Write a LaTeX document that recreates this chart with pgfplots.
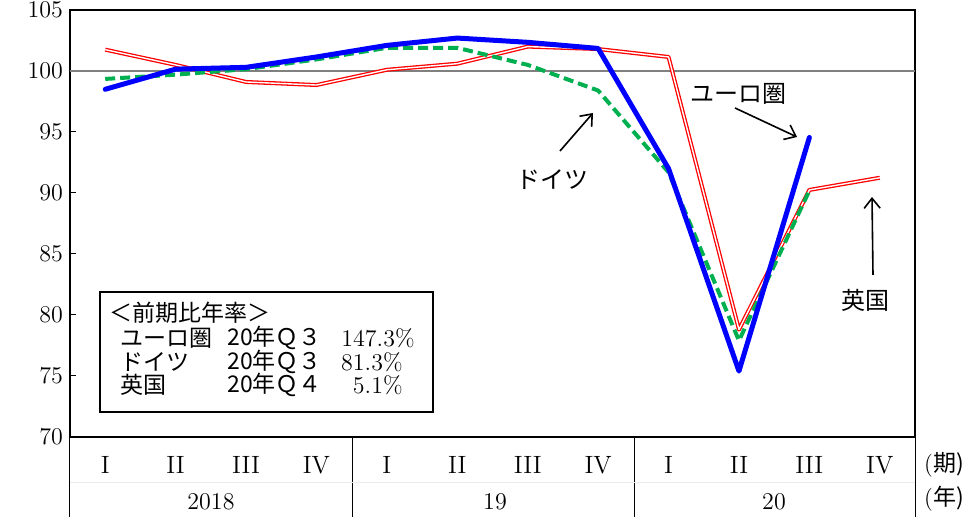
\documentclass[border=0pt]{standalone}
\usepackage{fontspec}
\usepackage{pgfplots}
\pgfplotsset{compat=1.18}
\usepackage{pgfplotstable}
\usetikzlibrary{arrows.meta}
\newfontfamily\cjk{Noto Sans CJK JP}
\definecolor{deGreen}{RGB}{0,176,80}

% quarterly level, 2018Q1 .. 2020Q4
\pgfplotstableread{
q  euro   de     uk
1  98.5   99.35  101.75
2  100.15 99.7   100.5
3  100.3  100.15 99.1
4  101.15 100.95 98.85
5  102.1  101.9  100.1
6  102.7  101.9  100.6
7  102.35 100.5  102.0
8  101.85 98.4   101.8
9  92.0   91.7   101.15
10 75.4   77.9   78.8
11 94.55  90.2   90.25
12 nan    nan    91.25
}\gdpdata

\begin{document}
\begin{tikzpicture}[px/.style={x=0.5pt,y=-0.5pt,shift={(-70,-435)}},
  jp/.style={font=\fontsize{11.5}{13}\selectfont\cjk, inner sep=0pt}]

\begin{axis}[
    at={(0,0)}, anchor=south west,
    scale only axis,
    width=422.5pt, height=213.5pt,
    xmin=0.5, xmax=12.5,
    ymin=70, ymax=105,
    ytick={70,75,...,105},
    xtick={1,...,12},
    xticklabels={I,II,III,IV,I,II,III,IV,I,II,III,IV},
    x tick style={draw=none},
    y tick style={black, line width=0.5pt},
    tick pos=left,
    tick align=inside,
    major tick length=3pt,
    axis line style={line width=1pt},
    tick label style={font=\fontsize{12}{14}\selectfont},
    xticklabel style={yshift=-6pt, font=\fontsize{12.5}{14}\selectfont},
]
\addplot[gray, line width=0.7pt, forget plot] coordinates {(0.5,100) (12.5,100)};
\addplot[red, line width=2pt, line join=round] table[x=q, y=uk] {\gdpdata};
\addplot[white, line width=0.7pt, line join=round] table[x=q, y=uk] {\gdpdata};
\addplot[deGreen, line width=2pt, dash pattern=on 5pt off 2.5pt, line join=round] table[x=q, y=de] {\gdpdata};
\addplot[blue, line width=2.5pt, line join=round, line cap=round] table[x=q, y=euro] {\gdpdata};
\end{axis}

\begin{scope}[px]
% table below the axis
\draw[line width=0.5pt] (70,435) -- (70,515);
\draw[line width=0.5pt] (352,435) -- (352,515);
\draw[line width=0.5pt] (634,435) -- (634,515);
\draw[line width=0.5pt] (915,435) -- (915,515);
\draw[black!8, line width=0.4pt] (70,480) -- (915,480);
\node[font=\fontsize{12}{14}\selectfont] at (211,500) {2018};
\node[font=\fontsize{12}{14}\selectfont] at (495,500) {19};
\node[font=\fontsize{12}{14}\selectfont] at (774,500) {20};
\node[font=\fontsize{11.5}{13}\selectfont] at (944,463) {(\cjk 期)};
\node[font=\fontsize{11.5}{13}\selectfont] at (944,497) {(\cjk 年)};

% labels and arrows
\node[jp, font=\fontsize{12}{14}\selectfont\cjk] at (738,92) {ユーロ圏};
\draw[-{Straight Barb[length=5pt,width=8pt]}, line width=0.8pt] (735,106) -- (797,135);
\node[jp, font=\fontsize{12}{14}\selectfont\cjk] at (552,178) {ドイツ};
\draw[-{Straight Barb[length=5pt,width=8pt]}, line width=0.8pt] (560,149) -- (593,111);
\node[jp, font=\fontsize{12}{14}\selectfont\cjk] at (865,298) {英国};
\draw[-{Straight Barb[length=5pt,width=8pt]}, line width=0.8pt] (873,273) -- (872,195);

% annualised rate box
\draw[line width=0.6pt] (100,290) rectangle (433,410);
\node[jp, anchor=west] at (109,311) {＜前期比年率＞};
\node[jp, anchor=west] at (120,336) {ユーロ圏};
\node[jp, anchor=west] at (227,336) {20年Ｑ３};
\node[inner sep=0pt, anchor=east, font=\fontsize{12}{14}\selectfont] at (415,336) {147.3\%};
\node[jp, anchor=west] at (120,360) {ドイツ};
\node[jp, anchor=west] at (227,360) {20年Ｑ３};
\node[inner sep=0pt, anchor=east, font=\fontsize{12}{14}\selectfont] at (403,360) {81.3\%};
\node[jp, anchor=west] at (120,383) {英国};
\node[jp, anchor=west] at (227,383) {20年Ｑ４};
\node[inner sep=0pt, anchor=east, font=\fontsize{12}{14}\selectfont] at (403,383) {5.1\%};
\end{scope}

% fix the page to the reference frame
\pgfresetboundingbox
\begin{scope}[px]
\path[use as bounding box] (0,-2) rectangle (975,515);
\end{scope}
\end{tikzpicture}
\end{document}
